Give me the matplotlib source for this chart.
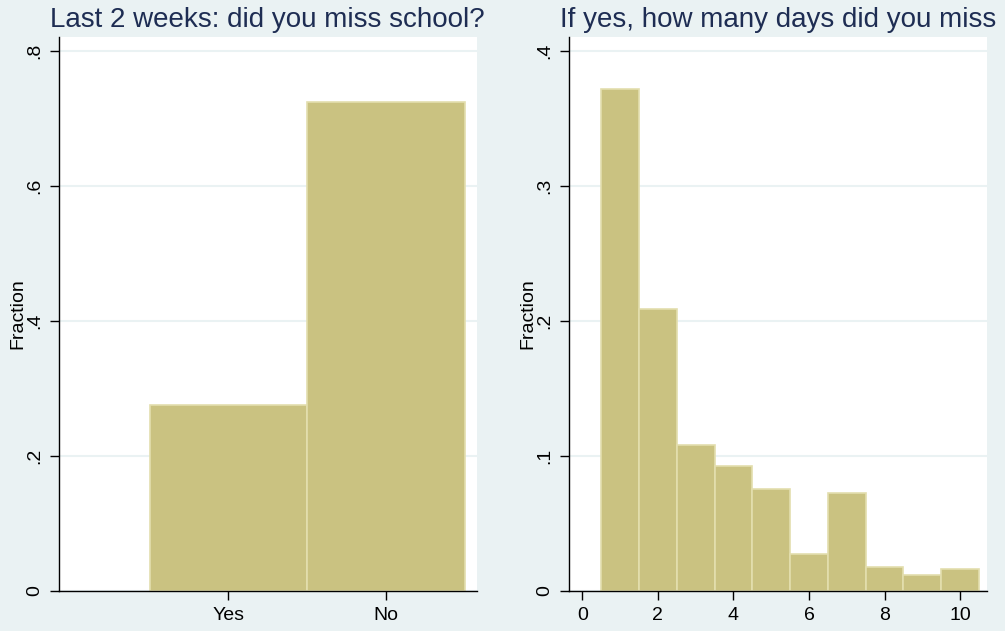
import matplotlib
matplotlib.use("Agg")
import matplotlib.pyplot as plt
import numpy as np

# Panel 1: missed school in the last two weeks
answer_labels = ["Yes", "No"]
answer_fraction = [0.276, 0.724]

# Panel 2: number of days missed (bins centred on whole days)
days = [1, 2, 3, 4, 5, 6, 7, 8, 9, 10]
days_fraction = [0.3716, 0.2088, 0.108, 0.0928, 0.0753, 0.0272, 0.0728, 0.018, 0.0116, 0.0165]

left_ticks = [0, 0.2, 0.4, 0.6, 0.8]
left_ticklabels = ["0", ".2", ".4", ".6", ".8"]
right_ticks = [0, 0.1, 0.2, 0.3, 0.4]
right_ticklabels = ["0", ".1", ".2", ".3", ".4"]
right_xticks = [0, 2, 4, 6, 8, 10]

BG = "#EAF2F3"
GRID = "#EAF2F3"
BAR = "#CAC281"
BAR_EDGE = "#E3DEAE"
TITLE = "#1E2D53"

plt.rcParams["font.family"] = ["Liberation Sans", "DejaVu Sans"]

W, H = 1005, 631
fig = plt.figure(figsize=(W / 100, H / 100), dpi=100, facecolor=BG)


def px_axes(x0, y0, x1, y1):
    return fig.add_axes([x0 / W, 1 - y1 / H, (x1 - x0) / W, (y1 - y0) / H])


def style(ax, yticks, yticklabels, ylim):
    ax.set_facecolor("white")
    for s in ("top", "right"):
        ax.spines[s].set_visible(False)
    for s in ("left", "bottom"):
        ax.spines[s].set_color("black")
        ax.spines[s].set_linewidth(1.0)
    ax.set_ylim(*ylim)
    ax.set_yticks(yticks)
    ax.set_yticklabels(yticklabels, rotation=90, va="center")
    ax.tick_params(axis="both", direction="out", length=6.5, width=1.0,
                   labelsize=14, colors="black", pad=5)
    ax.tick_params(axis="y", pad=4.5)
    ax.yaxis.grid(True, color=GRID, linewidth=1.5)
    ax.set_axisbelow(True)
    ax.set_ylabel("Fraction", fontsize=14)
    ax.yaxis.set_label_coords(-0.079, 0.5)


# Left panel
ax1 = px_axes(59, 37, 477, 591)
ax1.bar([1, 2], answer_fraction, width=1.0, color=BAR, edgecolor=BAR_EDGE,
        linewidth=1.2, zorder=2)
ax1.set_xlim(-0.074, 2.577)
ax1.set_xticks([1, 2])
ax1.set_xticklabels(answer_labels)
style(ax1, left_ticks, left_ticklabels, (0, 0.82))

# Right panel
ax2 = px_axes(569, 37, 987, 591)
ax2.bar(days, days_fraction, width=1.0, color=BAR, edgecolor=BAR_EDGE,
        linewidth=1.2, zorder=2)
ax2.set_xlim(-0.35, 10.71)
ax2.set_xticks(right_xticks)
ax2.set_xticklabels([str(t) for t in right_xticks])
style(ax2, right_ticks, right_ticklabels, (0, 0.41))

fig.text(267 / W, 1 - 27 / H, "Last 2 weeks: did you miss school?",
         ha="center", va="baseline", fontsize=20, color=TITLE)
fig.text(778 / W, 1 - 27 / H, "If yes, how many days did you miss",
         ha="center", va="baseline", fontsize=20, color=TITLE)

fig.savefig("out.png", dpi=100, facecolor=BG)
